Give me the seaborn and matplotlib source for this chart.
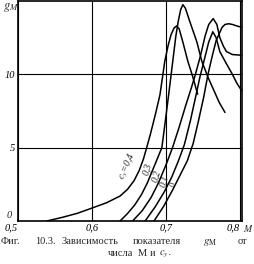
import numpy as np
import pandas as pd
import matplotlib
matplotlib.use("Agg")
import matplotlib.pyplot as plt
import seaborn as sns

# ---- data ----
cy_labels = ["0,4", "0,3", "0,2", "0,1", "0"]

M_04 = [0.539, 0.56, 0.58, 0.60, 0.62, 0.638, 0.648, 0.657, 0.664, 0.6695, 0.6735, 0.679, 0.686, 0.692, 0.6986, 0.703, 0.707, 0.711, 0.7145, 0.718, 0.723, 0.7297, 0.736, 0.743]
g_04 = [0.0, 0.25, 0.52, 0.88, 1.25, 1.7, 2.15, 2.75, 3.45, 4.2, 4.9, 5.9, 7.3, 8.6, 10.9, 11.95, 12.7, 13.15, 13.3, 13.1, 12.2, 10.9, 9.9, 8.65]

M_03 = [0.638, 0.648, 0.658, 0.667, 0.675, 0.6815, 0.6865, 0.6905, 0.6946, 0.699, 0.704, 0.7095, 0.7135, 0.7167, 0.720, 0.723, 0.7265, 0.7324, 0.742, 0.7486, 0.757, 0.765, 0.772, 0.780]
g_03 = [0.0, 0.5, 1.1, 1.8, 2.6, 3.4, 4.0, 4.5, 5.0, 6.7, 8.7, 10.95, 12.6, 13.6, 14.4, 14.75, 14.5, 13.6, 12.2, 10.9, 9.8, 8.9, 8.1, 7.4]

M_02 = [0.655, 0.668, 0.680, 0.690, 0.700, 0.709, 0.718, 0.727, 0.734, 0.740, 0.747, 0.753, 0.758, 0.764, 0.769, 0.773, 0.778, 0.782, 0.790, 0.803]
g_02 = [0.0, 0.7, 1.6, 2.6, 3.8, 5.0, 6.4, 7.9, 9.0, 10.0, 11.3, 12.6, 13.4, 13.8, 13.4, 12.5, 11.9, 11.55, 11.35, 11.3]

M_01 = [0.672, 0.686, 0.698, 0.708, 0.717, 0.725, 0.733, 0.740, 0.746, 0.752, 0.758, 0.7635, 0.768, 0.773, 0.780, 0.790, 0.796, 0.803]
g_01 = [0.0, 1.0, 2.0, 3.0, 4.1, 5.2, 6.8, 8.4, 9.8, 11.0, 12.2, 12.9, 12.5, 11.55, 10.9, 10.0, 9.4, 8.85]

M_00 = [0.684, 0.697, 0.709, 0.719, 0.729, 0.737, 0.744, 0.751, 0.757, 0.763, 0.768, 0.772, 0.776, 0.780, 0.785, 0.790, 0.796, 0.803]
g_00 = [0.0, 1.0, 2.1, 3.1, 4.1, 5.3, 6.8, 8.4, 10.0, 11.3, 12.3, 12.75, 13.2, 13.4, 13.45, 13.4, 13.3, 13.2]

x_ticks = [0.5, 0.6, 0.7, 0.8]
x_tick_labels = ["0,5", "0,6", "0,7", "0,8"]
y_ticks = [0, 5, 10]
y_tick_labels = ["0", "5", "10"]

caption_line1 = ["Фиг.", "10.3.", "Зависимость", "показателя", "от"]
caption_line2 = ["числа", "M", "и"]

curves = [M_04, M_03, M_02, M_01, M_00]
values = [g_04, g_03, g_02, g_01, g_00]

sns.set_theme(style="white")
plt.rcParams["mathtext.fontset"] = "stix"
serif = ["Liberation Serif", "DejaVu Serif"]

W, H = 254, 264
fig = plt.figure(figsize=(W / 100, H / 100), dpi=100)
fig.patch.set_facecolor("white")
ax = fig.add_axes([18 / W, 1 - 221 / H, (242 - 18) / W, (221 - 1) / H])
ax.set_facecolor("white")

for lab, ms, gs in zip(cy_labels, curves, values):
    sns.lineplot(x=ms, y=gs, sort=False, estimator=None, color="black",
                 linewidth=1.1, ax=ax, legend=False)

ax.set_xlim(0.5, 0.803)
ax.set_ylim(0, 15)
ax.set_xticks(x_ticks)
ax.set_xticklabels(x_tick_labels, fontstyle="italic", family=serif, fontsize=7.5)
ax.get_xticklabels()[-1].set_ha("right")
ax.get_xticklabels()[0].set_ha("right")
ax.set_yticks(y_ticks)
ax.set_yticklabels(["" if t == "0" else t for t in y_tick_labels],
                   fontstyle="italic", family=serif, fontsize=7.5)
ax.tick_params(length=0, pad=2, colors="black")
ax.grid(True, color="black", linewidth=0.8)
for s in ax.spines.values():
    s.set_color("black")
    s.set_linewidth(1.2)
    s.set_visible(True)
ax.set_xlabel("")
ax.set_ylabel("")

# y tick "0" sits a little higher, left of the corner
fig.text(9 / W, 1 - 215 / H, y_tick_labels[0], fontsize=7.5, family=serif,
         fontstyle="italic", ha="center", va="center")

# axis names
fig.text(3 / W, 1 - 8 / H, r"$g_M$", fontsize=9, ha="left", va="center", fontweight="bold")
fig.text(243 / W, 1 - 228 / H, r"$M$", fontsize=7, ha="left", va="center")

# curve labels (each sits just left of its curve)
ax.text(0.648, 3.75, r"$c_y$=0,4", rotation=66, fontsize=7, family=serif,
        fontstyle="italic", ha="center", va="center")
ax.text(0.6745, 3.55, "0,3", rotation=75, fontsize=7, family=serif,
        fontstyle="italic", ha="center", va="center")
ax.text(0.6865, 3.1, "0,2", rotation=75, fontsize=7, family=serif,
        fontstyle="italic", ha="center", va="center")
ax.text(0.698, 2.7, "0,1", rotation=75, fontsize=7, family=serif,
        fontstyle="italic", ha="center", va="center")
ax.text(0.7095, 2.5, "0", rotation=75, fontsize=6, family=serif,
        fontstyle="italic", ha="center", va="center")

# caption
cap_fs = 7.5
y1 = 1 - 242 / H
y2 = 1 - 254 / H
for word, xp in zip(caption_line1, [1, 35, 62, 133, 238]):
    fig.text(xp / W, y1, word, fontsize=cap_fs, family=serif, ha="left", va="center")
fig.text(203 / W, y1, r"$g_{\rm M}$", fontsize=cap_fs + 0.5, ha="left", va="center")
for word, xp in zip(caption_line2, [108, 138, 150]):
    fig.text(xp / W, y2, word, fontsize=cap_fs, family=serif, ha="left", va="center")
fig.text(159 / W, y2, r"$c_y$.", fontsize=cap_fs, ha="left", va="center")

fig.savefig("out.png", dpi=100, facecolor="white")
